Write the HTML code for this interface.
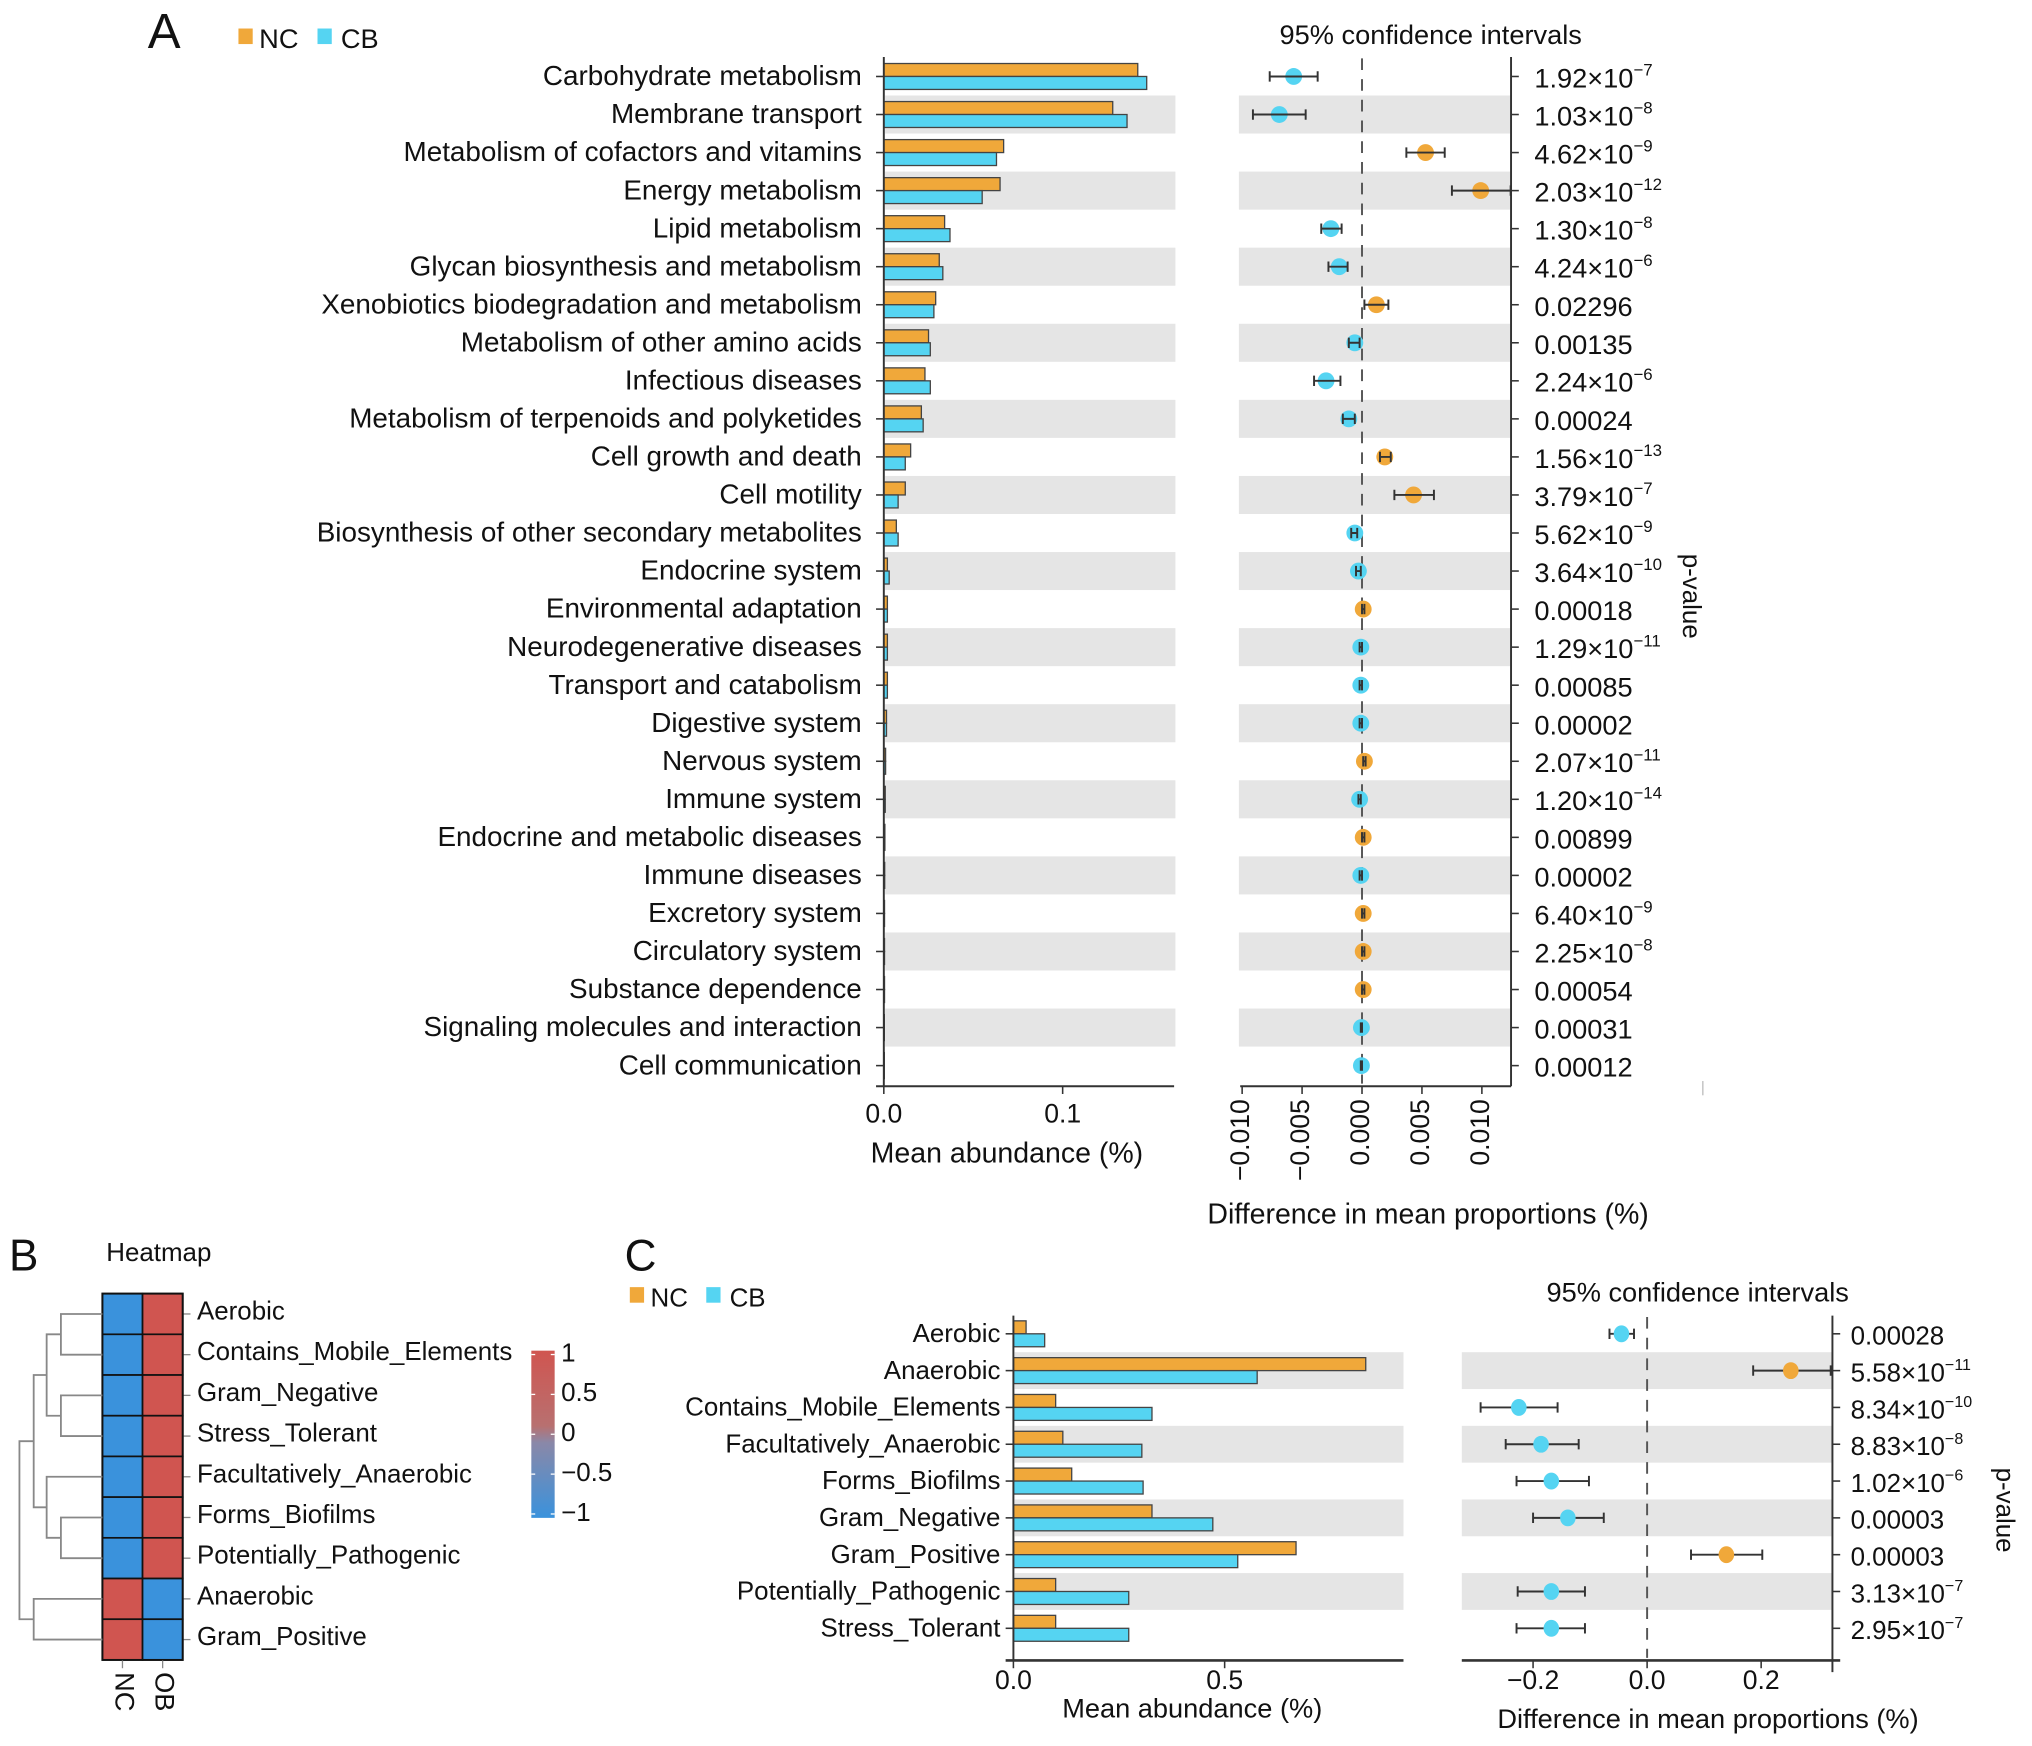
<!DOCTYPE html>
<html><head><meta charset="utf-8"><style>
html,body{margin:0;padding:0;background:#fff;}
svg{display:block;font-family:"Liberation Sans",Arial,sans-serif;}
</style></head><body>
<svg id="fig" width="2032" height="1746" viewBox="0 0 1568 1347" preserveAspectRatio="none" xmlns="http://www.w3.org/2000/svg">
<rect x="0" y="0" width="1568" height="1347" fill="#fff"/>
<g id="A"></g>
<g id="B"></g>
<g id="C"></g>
</svg>
<script>
// ---------- Panel A data ----------
const catsA = ["Carbohydrate metabolism","Membrane transport","Metabolism of cofactors and vitamins","Energy metabolism","Lipid metabolism","Glycan biosynthesis and metabolism","Xenobiotics biodegradation and metabolism","Metabolism of other amino acids","Infectious diseases","Metabolism of terpenoids and polyketides","Cell growth and death","Cell motility","Biosynthesis of other secondary metabolites","Endocrine system","Environmental adaptation","Neurodegenerative diseases","Transport and catabolism","Digestive system","Nervous system","Immune system","Endocrine and metabolic diseases","Immune diseases","Excretory system","Circulatory system","Substance dependence","Signaling molecules and interaction","Cell communication"];
const ncA = [0.142,0.128,0.067,0.065,0.034,0.031,0.029,0.025,0.023,0.021,0.015,0.012,0.007,0.002,0.002,0.002,0.002,0.0015,0.001,0.0008,0.0006,0.0005,0.0004,0.0004,0.0004,0.0003,0.0003];
const cbA = [0.147,0.136,0.063,0.055,0.037,0.033,0.028,0.026,0.026,0.022,0.012,0.008,0.008,0.003,0.002,0.002,0.002,0.0015,0.001,0.0008,0.0006,0.0005,0.0004,0.0004,0.0004,0.0003,0.0003];
const diffA = [-0.0057,-0.0069,0.0053,0.0099,-0.0026,-0.0019,0.0012,-0.0006,-0.0030,-0.0011,0.0019,0.0043,-0.0006,-0.0003,0.0001,-0.0001,-0.0001,-0.0001,0.0002,-0.0002,0.0001,-0.0001,0.0001,0.0001,0.0001,-0.00005,-0.00005];
const loA = [-0.0077,-0.0091,0.0037,0.0075,-0.0034,-0.0028,0.0002,-0.0011,-0.0040,-0.0016,0.0015,0.0027,-0.0009,-0.0005,0,-0.0002,-0.0002,-0.0002,0.0001,-0.0003,0,-0.0002,0,0,0,-0.0001,-0.0001];
const hiA = [-0.0037,-0.0047,0.0069,0.0124,-0.0017,-0.0012,0.0022,-0.0002,-0.0018,-0.0006,0.0024,0.0060,-0.0004,-0.0001,0.0002,0.0000,0.0000,0.0000,0.0003,-0.0001,0.0002,0.0000,0.0002,0.0002,0.0002,0.0000,0.0000];
const pA = ["1.92e-7","1.03e-8","4.62e-9","2.03e-12","1.30e-8","4.24e-6","0.02296","0.00135","2.24e-6","0.00024","1.56e-13","3.79e-7","5.62e-9","3.64e-10","0.00018","1.29e-11","0.00085","0.00002","2.07e-11","1.20e-14","0.00899","0.00002","6.40e-9","2.25e-8","0.00054","0.00031","0.00012"];
const barTicksA = [0, 0.1];
const barTickLabelsA = ["0.0","0.1"];
const ciTicksA = [-0.010,-0.005,0,0.005,0.010];
const ciTickLabelsA = ["\u22120.010","\u22120.005","0.000","0.005","0.010"];

// ---------- Panel B data ----------
const rowsB = ["Aerobic","Contains_Mobile_Elements","Gram_Negative","Stress_Tolerant","Facultatively_Anaerobic","Forms_Biofilms","Potentially_Pathogenic","Anaerobic","Gram_Positive"];
const colsB = ["NC","OB"];
const ncB = [-1,-1,-1,-1,-1,-1,-1,1,1];
const obB = [1,1,1,1,1,1,1,-1,-1];
const legendTicksB = [1,0.5,0,-0.5,-1];
const legendLabelsB = ["1","0.5","0","\u22120.5","\u22121"];

// ---------- Panel C data ----------
const catsC = ["Aerobic","Anaerobic","Contains_Mobile_Elements","Facultatively_Anaerobic","Forms_Biofilms","Gram_Negative","Gram_Positive","Potentially_Pathogenic","Stress_Tolerant"];
const ncC = [0.03,0.834,0.10,0.117,0.138,0.328,0.669,0.10,0.10];
const cbC = [0.074,0.577,0.328,0.304,0.307,0.472,0.531,0.273,0.273];
const diffC = [-0.045,0.252,-0.225,-0.186,-0.168,-0.139,0.139,-0.168,-0.168];
const loC = [-0.066,0.186,-0.292,-0.248,-0.229,-0.200,0.077,-0.227,-0.229];
const hiC = [-0.023,0.322,-0.157,-0.120,-0.102,-0.076,0.202,-0.109,-0.109];
const pC = ["0.00028","5.58e-11","8.34e-10","8.83e-8","1.02e-6","0.00003","0.00003","3.13e-7","2.95e-7"];
const barTicksC = [0,0.5];
const barTickLabelsC = ["0.0","0.5"];
const ciTicksC = [-0.2,0,0.2];
const ciTickLabelsC = ["\u22120.2","0.0","0.2"];

const NS="http://www.w3.org/2000/svg";
const ORANGE="#F0A83A", BLUE="#55D4F2", SHADE="#e5e5e5", AX="#333";
function mk(parent, tag, attrs, text){
  const e=document.createElementNS(NS,tag);
  for(const k in attrs) e.setAttribute(k,attrs[k]);
  if(text!==undefined) e.textContent=text;
  parent.appendChild(e); return e;
}
function pText(parent, x, y, s, fs){
  const t=mk(parent,'text',{x:x,y:y,'font-size':fs,fill:'#111','dominant-baseline':'middle'});
  if(s.indexOf('e')>=0){
    const [m,ex]=s.split('e');
    mk(t,'tspan',{},m+'\u00d710');
    mk(t,'tspan',{'font-size':fs*0.62,dy:-fs*0.32},ex.replace('-','\u2212'));
  } else t.textContent=s;
  return t;
}

// ================= Panel A =================
(function(){
  const g=document.getElementById('A');
  const y0=59, dy=29.35, n=catsA.length;
  const yA=i=>y0+i*dy;
  const bx0=682, bxs=1380; const xb=v=>bx0+v*bxs;
  const cx0=1051, cxs=9250; const xc=v=>cx0+v*cxs;
  const axisY=838;
  let t=mk(g,'text',{x:114,y:37,'font-size':38,fill:'#111'},'A');
   
  let lg=mk(g,'g',{});
   
  mk(lg,'rect',{x:184,y:22,width:11,height:12,fill:ORANGE});
  mk(lg,'text',{x:200,y:37,'font-size':21,fill:'#111'},'NC');
  mk(lg,'rect',{x:245,y:22,width:11,height:12,fill:BLUE});
  mk(lg,'text',{x:263,y:37,'font-size':21,fill:'#111'},'CB');
  t=mk(g,'text',{x:1104,y:34,'font-size':21,fill:'#111','text-anchor':'middle'},'95% confidence intervals');
   
  for(let i=0;i<n;i++){
    const y=yA(i);
    if(i%2===1){
      mk(g,'rect',{x:683,y:y-dy/2,width:224,height:dy,fill:SHADE});
      mk(g,'rect',{x:956,y:y-dy/2,width:210,height:dy,fill:SHADE});
    }
  }
  mk(g,'line',{x1:xc(0),x2:xc(0),y1:45,y2:836,stroke:'#555','stroke-width':1.5,'stroke-dasharray':'9,7'});
  for(let i=0;i<n;i++){
    const y=yA(i);
    const lab=mk(g,'text',{x:665,y:y+1,'font-size':21.5,fill:'#111','text-anchor':'end','dominant-baseline':'middle'},catsA[i]);
     
    mk(g,'line',{x1:676,x2:682,y1:y,y2:y,stroke:AX,'stroke-width':1.2});
    const b1=mk(g,'rect',{x:bx0,y:y-10,width:Math.max(xb(ncA[i])-bx0,0.3),height:10,fill:ORANGE,stroke:'#444','stroke-width':1});
     
    const b2=mk(g,'rect',{x:bx0,y:y,width:Math.max(xb(cbA[i])-bx0,0.3),height:10,fill:BLUE,stroke:'#444','stroke-width':1});
     
    const col=diffA[i]>0?ORANGE:BLUE;
    const pt=mk(g,'ellipse',{cx:xc(diffA[i]),cy:y,rx:6.5,ry:6.5,fill:col});
     
    const e=mk(g,'path',{d:`M${xc(loA[i])},${y}H${xc(hiA[i])}M${xc(loA[i])},${y-4}V${y+4}M${xc(hiA[i])},${y-4}V${y+4}`,stroke:'#333','stroke-width':1.5,fill:'none'});
     
    mk(g,'line',{x1:1166,x2:1172,y1:y,y2:y,stroke:AX,'stroke-width':1.2});
    const pv=pText(g,1184,y+3,pA[i],21);
     
  }
  mk(g,'line',{x1:682,x2:682,y1:44,y2:838,stroke:AX,'stroke-width':1.5});
  mk(g,'line',{x1:676,x2:906,y1:axisY,y2:axisY,stroke:AX,'stroke-width':1.5});
  barTicksA.forEach((v,k)=>{
    mk(g,'line',{x1:xb(v),x2:xb(v),y1:axisY,y2:axisY+6,stroke:AX,'stroke-width':1.2});
    mk(g,'text',{x:xb(v),y:866,'font-size':20.5,fill:'#111','text-anchor':'middle'},barTickLabelsA[k]);
  });
  t=mk(g,'text',{x:777,y:897,'font-size':22,fill:'#111','text-anchor':'middle'},'Mean abundance (%)');
   
  mk(g,'line',{x1:957,x2:1166,y1:axisY,y2:axisY,stroke:AX,'stroke-width':1.5});
  mk(g,'line',{x1:1166,x2:1166,y1:44,y2:838,stroke:AX,'stroke-width':1.5});
  ciTicksA.forEach((v,k)=>{
    const x=xc(v);
    mk(g,'line',{x1:x,x2:x,y1:axisY,y2:axisY+6,stroke:AX,'stroke-width':1.2});
    mk(g,'text',{x:x,y:848,'font-size':20.5,fill:'#111','text-anchor':'end','dominant-baseline':'middle',transform:`rotate(-90 ${x} 848)`},ciTickLabelsA[k]);
  });
  t=mk(g,'text',{x:1102,y:944,'font-size':22,fill:'#111','text-anchor':'middle'},'Difference in mean proportions (%)');
   
  t=mk(g,'text',{x:1304,y:460,'font-size':20,fill:'#111','text-anchor':'middle','dominant-baseline':'middle',transform:'rotate(90 1304 460)'},'p-value');
   
  mk(g,'line',{x1:1314,x2:1314,y1:834,y2:845,stroke:'#bbb','stroke-width':1});
})();

// ================= Panel B =================
(function(){
  const g=document.getElementById('B');
  let t=mk(g,'text',{x:7,y:980,'font-size':34,fill:'#111'},'B');
   
  t=mk(g,'text',{x:82,y:973,'font-size':20,fill:'#111'},'Heatmap');
   
  const top=998, rh=31.4, cx=[79,110], cw=31;
  const red="#D05550", blue="#3A92DC";
  const colVals=[ncB,obB];
  const yc=i=>top+i*rh+rh/2;
  for(let i=0;i<rowsB.length;i++){
    for(let j=0;j<2;j++){
      const c=mk(g,'rect',{x:cx[j],y:top+i*rh,width:cw,height:rh,fill:colVals[j][i]>0?red:blue,stroke:'#111','stroke-width':1.3});
       
    }
    mk(g,'line',{x1:141,x2:147,y1:yc(i),y2:yc(i),stroke:'#888','stroke-width':1});
    const l=mk(g,'text',{x:152,y:yc(i)-1,'font-size':20,fill:'#111','dominant-baseline':'middle'},rowsB[i]);
     
  }
  mk(g,'rect',{x:79,y:top,width:62,height:rh*9,fill:'none',stroke:'#111','stroke-width':1.5});
  colsB.forEach((c,j)=>{
    const x=cx[j]+cw/2;
    mk(g,'line',{x1:x,x2:x,y1:1281,y2:1287,stroke:'#888','stroke-width':1});
    const l=mk(g,'text',{x:x,y:1290,'font-size':21,fill:'#111','dominant-baseline':'middle',transform:`rotate(90 ${x} 1290)`},c);
     
  });
  const d=mk(g,'path',{fill:'none',stroke:'#888','stroke-width':1.4,d:
    `M79,${yc(0)}H47V${yc(1)}H79 M79,${yc(2)}H47V${yc(3)}H79 M47,${(yc(0)+yc(1))/2}H36V${(yc(2)+yc(3))/2}H47`+
    ` M79,${yc(5)}H47V${yc(6)}H79 M79,${yc(4)}H36V${(yc(5)+yc(6))/2}H47`+
    ` M36,${(yc(0)+yc(1)+yc(2)+yc(3))/4}H26V${(yc(4)+(yc(5)+yc(6))/2)/2}H36`+
    ` M79,${yc(7)}H26V${yc(8)}H79`+
    ` M26,${((yc(0)+yc(1)+yc(2)+yc(3))/4+(yc(4)+(yc(5)+yc(6))/2)/2)/2}H15V${(yc(7)+yc(8))/2}H26`});
   
  const defs=mk(g,'defs',{});
  const gr=mk(defs,'linearGradient',{id:'hmgrad',x1:0,y1:0,x2:0,y2:1});
  mk(gr,'stop',{offset:'0',  'stop-color':'#D05550'});
  mk(gr,'stop',{offset:'0.45','stop-color':'#B87070'});
  mk(gr,'stop',{offset:'0.55','stop-color':'#8A88A8'});
  mk(gr,'stop',{offset:'1','stop-color':'#3A92DC'});
  const lt=1045, lb=1168;
  const ly=v=>lt+(1-v)/2*(lb-lt);
  const cb=mk(g,'rect',{x:410,y:lt-3,width:18,height:lb-lt+6,fill:'url(#hmgrad)'});
   
  legendTicksB.forEach((v,k)=>{
    mk(g,'line',{x1:410,x2:413,y1:ly(v),y2:ly(v),stroke:'#fff','stroke-width':1});
    mk(g,'line',{x1:425,x2:428,y1:ly(v),y2:ly(v),stroke:'#fff','stroke-width':1});
    mk(g,'text',{x:433,y:ly(v),'font-size':20,fill:'#111','dominant-baseline':'middle'},legendLabelsB[k]);
  });
})();

// ================= Panel C =================
(function(){
  const g=document.getElementById('C');
  const y0=1029, dy=28.4, n=catsC.length;
  const yC=i=>y0+i*dy;
  const bx0=782, bxs=326; const xb=v=>bx0+v*bxs;
  const cx0=1271, cxs=440; const xc=v=>cx0+v*cxs;
  const axisY=1281;
  let t=mk(g,'text',{x:482,y:980,'font-size':34,fill:'#111'},'C');
   
  let lg=mk(g,'g',{});
   
  mk(lg,'rect',{x:486,y:993,width:11,height:12,fill:ORANGE});
  mk(lg,'text',{x:502,y:1008,'font-size':20,fill:'#111'},'NC');
  mk(lg,'rect',{x:545,y:993,width:11,height:12,fill:BLUE});
  mk(lg,'text',{x:563,y:1008,'font-size':20,fill:'#111'},'CB');
  t=mk(g,'text',{x:1310,y:1004,'font-size':21,fill:'#111','text-anchor':'middle'},'95% confidence intervals');
   
  for(let i=0;i<n;i++){
    const y=yC(i);
    if(i%2===1){
      mk(g,'rect',{x:783,y:y-dy/2,width:300,height:dy,fill:SHADE});
      mk(g,'rect',{x:1128,y:y-dy/2,width:286,height:dy,fill:SHADE});
    }
  }
  mk(g,'line',{x1:xc(0),x2:xc(0),y1:1016,y2:1279,stroke:'#555','stroke-width':1.5,'stroke-dasharray':'9,7'});
  for(let i=0;i<n;i++){
    const y=yC(i);
    const lab=mk(g,'text',{x:772,y:y+1,'font-size':20,fill:'#111','text-anchor':'end','dominant-baseline':'middle'},catsC[i]);
     
    mk(g,'line',{x1:776,x2:782,y1:y,y2:y,stroke:AX,'stroke-width':1.2});
    const b1=mk(g,'rect',{x:bx0,y:y-10,width:xb(ncC[i])-bx0,height:10,fill:ORANGE,stroke:'#444','stroke-width':1});
     
    const b2=mk(g,'rect',{x:bx0,y:y,width:xb(cbC[i])-bx0,height:10,fill:BLUE,stroke:'#444','stroke-width':1});
     
    const col=diffC[i]>0?ORANGE:BLUE;
    const e=mk(g,'path',{d:`M${xc(loC[i])},${y}H${xc(hiC[i])}M${xc(loC[i])},${y-4}V${y+4}M${xc(hiC[i])},${y-4}V${y+4}`,stroke:'#333','stroke-width':1.5,fill:'none'});
     
    const pt=mk(g,'ellipse',{cx:xc(diffC[i]),cy:y,rx:6,ry:6.5,fill:col});
     
    mk(g,'line',{x1:1414,x2:1420,y1:y,y2:y,stroke:AX,'stroke-width':1.2});
    const pv=pText(g,1428,y+3,pC[i],20);
     
  }
  mk(g,'line',{x1:782,x2:782,y1:1015,y2:1281,stroke:AX,'stroke-width':1.5});
  mk(g,'line',{x1:776,x2:1083,y1:axisY,y2:axisY,stroke:AX,'stroke-width':2});
  barTicksC.forEach((v,k)=>{
    mk(g,'line',{x1:xb(v),x2:xb(v),y1:axisY,y2:axisY+6,stroke:AX,'stroke-width':1.2});
    mk(g,'text',{x:xb(v),y:1303,'font-size':20.5,fill:'#111','text-anchor':'middle'},barTickLabelsC[k]);
  });
  t=mk(g,'text',{x:920,y:1325,'font-size':21,fill:'#111','text-anchor':'middle'},'Mean abundance (%)');
   
  mk(g,'line',{x1:1128,x2:1420,y1:axisY,y2:axisY,stroke:AX,'stroke-width':2});
  mk(g,'line',{x1:1414,x2:1414,y1:1015,y2:1290,stroke:AX,'stroke-width':1.5});
  ciTicksC.forEach((v,k)=>{
    const x=xc(v);
    mk(g,'line',{x1:x,x2:x,y1:axisY,y2:axisY+6,stroke:AX,'stroke-width':1.2});
    mk(g,'text',{x:x,y:1303,'font-size':20.5,fill:'#111','text-anchor':'middle'},ciTickLabelsC[k]);
  });
  t=mk(g,'text',{x:1318,y:1333,'font-size':21,fill:'#111','text-anchor':'middle'},'Difference in mean proportions (%)');
   
  t=mk(g,'text',{x:1546,y:1165,'font-size':20,fill:'#111','text-anchor':'middle','dominant-baseline':'middle',transform:'rotate(90 1546 1165)'},'p-value');
   
})();
</script>
</body></html>
